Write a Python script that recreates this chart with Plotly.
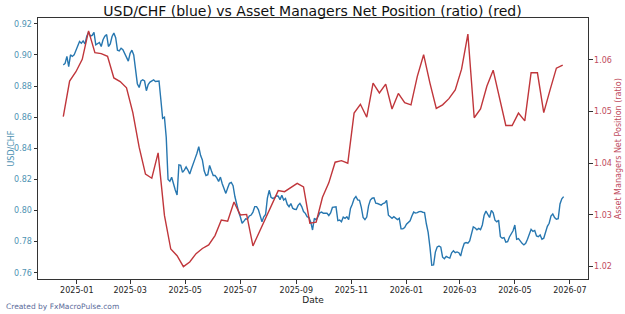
import pandas as pd
import plotly.graph_objects as go

# ---- data ----
usdchf_start = "2024-12-17"
usdchf_values = [
    0.8936, 0.8945, 0.8990, 0.8925, 0.9000, 0.8990, 0.9000, 0.9025, 0.9054, 0.9086,
    0.9075, 0.9090, 0.9070, 0.9120, 0.9145, 0.9120, 0.9125, 0.9145, 0.9065, 0.9075,
    0.9080, 0.9054, 0.9097, 0.9120, 0.9130, 0.9054, 0.9070, 0.9118, 0.9140, 0.9110,
    0.9030, 0.9025, 0.9043, 0.9033, 0.9007, 0.8990, 0.8960, 0.9010, 0.9030, 0.9000,
    0.8900, 0.8815, 0.8790, 0.8832, 0.8840, 0.8832, 0.8770, 0.8810, 0.8825, 0.8830,
    0.8840, 0.8829, 0.8830, 0.8832, 0.8715, 0.8593, 0.8600, 0.8470, 0.8200, 0.8188,
    0.8214, 0.8165, 0.8132, 0.8100, 0.8293, 0.8290, 0.8245, 0.8260, 0.8280, 0.8260,
    0.8235, 0.8270, 0.8310, 0.8335, 0.8368, 0.8410, 0.8355, 0.8325, 0.8255, 0.8225,
    0.8230, 0.8290, 0.8255, 0.8225, 0.8225, 0.8210, 0.8186, 0.8215, 0.8172, 0.8140,
    0.8110, 0.8145, 0.8175, 0.8180, 0.8160, 0.8090, 0.8030, 0.7994, 0.7960, 0.7918,
    0.7932, 0.7947, 0.7945, 0.7965, 0.7971, 0.7990, 0.8025, 0.8025, 0.8006, 0.7962,
    0.7928, 0.7960, 0.7975, 0.8080, 0.8130, 0.8085, 0.8078, 0.8082, 0.8095, 0.8092,
    0.8070, 0.8098, 0.8067, 0.8077, 0.8040, 0.8025, 0.8045, 0.8015, 0.8008, 0.8007,
    0.8033, 0.8046, 0.8025, 0.7993, 0.7982, 0.7960, 0.7955, 0.7925, 0.7875, 0.7950,
    0.7940, 0.7960, 0.7985, 0.7990, 0.7982, 0.7982, 0.7982, 0.7968, 0.7985, 0.8020,
    0.8024, 0.8024, 0.7935, 0.7939, 0.7928, 0.7958, 0.7950, 0.7960, 0.7942, 0.8014,
    0.8040, 0.8075, 0.8090, 0.8068, 0.8065, 0.8020, 0.7955, 0.7942, 0.7958, 0.8030,
    0.8067, 0.8079, 0.8082, 0.8047, 0.8045, 0.8040, 0.8035, 0.8045, 0.8049, 0.8065,
    0.7970, 0.7960, 0.7950, 0.7960, 0.7950, 0.7942, 0.7950, 0.7882, 0.7882, 0.7890,
    0.7912, 0.7926, 0.7934, 0.7965, 0.7990, 0.7984, 0.7986, 0.7993, 0.7994, 0.7989,
    0.7987, 0.7915, 0.7860, 0.7765, 0.7648, 0.7650, 0.7733, 0.7766, 0.7772, 0.7765,
    0.7700, 0.7690, 0.7705, 0.7699, 0.7694, 0.7728, 0.7741, 0.7729, 0.7734, 0.7729,
    0.7708, 0.7755, 0.7789, 0.7794, 0.7790, 0.7805, 0.7843, 0.7895, 0.7888, 0.7876,
    0.7885, 0.7877, 0.7907, 0.7970, 0.7996, 0.7975, 0.7955, 0.8001, 0.7985, 0.7938,
    0.7928, 0.7938, 0.7832, 0.7822, 0.7826, 0.7797, 0.7800, 0.7830, 0.7853, 0.7870,
    0.7907, 0.7815, 0.7820, 0.7801, 0.7789, 0.7779, 0.7789, 0.7816, 0.7847, 0.7879,
    0.7866, 0.7872, 0.7837, 0.7832, 0.7843, 0.7815, 0.7822, 0.7867, 0.7898, 0.7918,
    0.7965, 0.7978, 0.7955, 0.7944, 0.7947, 0.8042, 0.8075, 0.8089,
]

am_start = "2024-12-17"
am_values = [
    1.0490, 1.0559, 1.0577, 1.0601, 1.0656, 1.0614, 1.0612, 1.0607, 1.0565, 1.0558,
    1.0546, 1.0498, 1.0431, 1.0379, 1.0371, 1.0420, 1.0299, 1.0234, 1.0221, 1.0200,
    1.0209, 1.0225, 1.0235, 1.0242, 1.0260, 1.0290, 1.0288, 1.0325, 1.0300, 1.0301,
    1.0240, 1.0267, 1.0296, 1.0321, 1.0347, 1.0345, 1.0353, 1.0361, 1.0354, 1.0284,
    1.0286, 1.0334, 1.0362, 1.0402, 1.0405, 1.0400, 1.0497, 1.0514, 1.0489, 1.0555,
    1.0536, 1.0553, 1.0505, 1.0535, 1.0517, 1.0513, 1.0568, 1.0610, 1.0555, 1.0506,
    1.0513, 1.0525, 1.0542, 1.0582, 1.0650, 1.0488, 1.0505, 1.0549, 1.0580, 1.0527,
    1.0473, 1.0473, 1.0497, 1.0482, 1.0575, 1.0575, 1.0498, 1.0542, 1.0584, 1.0590,
]

usdchf_dates = pd.date_range(usdchf_start, periods=len(usdchf_values), freq="2D")
am_dates = pd.date_range(am_start, periods=len(am_values), freq="7D")

title_text = "USD/CHF (blue) vs Asset Managers Net Position (ratio) (red)"
left_title = "USD/CHF"
right_title = "Asset Managers Net Position (ratio)"
x_title = "Date"
footer = "Created by FxMacroPulse.com"

BLUE = "#2777b0"
RED = "#c0363b"
LEFT_TXT = "#4f93b3"
RIGHT_TXT = "#c04b5e"
AX = "#333333"
FONT = "DejaVu Sans"

fig = go.Figure()
fig.add_trace(go.Scatter(x=usdchf_dates, y=usdchf_values, mode="lines",
                         line=dict(color=BLUE, width=1.4), yaxis="y", showlegend=False))
fig.add_trace(go.Scatter(x=am_dates, y=am_values, mode="lines",
                         line=dict(color=RED, width=1.4), yaxis="y2", showlegend=False))

fig.update_layout(
    width=625, height=314,
    margin=dict(l=38, r=37, t=18, b=35, autoexpand=False),
    paper_bgcolor="white", plot_bgcolor="white",
    font=dict(family=FONT, size=8, color=AX),
    title=dict(text=title_text, x=0.5, xanchor="center", y=0.966, yanchor="middle",
               font=dict(family=FONT, size=14, color="#111111")),
    xaxis=dict(
        type="date", range=["2024-11-19", "2026-07-21"], automargin=False,
        tick0="2025-01-01", dtick="M2", tickformat="%Y-%m",
        showgrid=False, zeroline=False,
        showline=True, linecolor=AX, linewidth=1, mirror=True,
        ticks="outside", ticklen=3.5, tickcolor=AX, tickwidth=0.8,
        tickfont=dict(family=FONT, size=8, color="#222222"),
        title=dict(text=x_title, font=dict(family=FONT, size=9, color="#222222"), standoff=1),
    ),
    yaxis=dict(
        range=[0.756, 0.9237], dtick=0.02, tick0=0.76, tickformat=".2f", automargin=False,
        showgrid=False, zeroline=False,
        showline=True, linecolor=AX, linewidth=1, mirror=False,
        ticks="outside", ticklen=3.5, tickcolor=AX, tickwidth=0.8,
        tickfont=dict(family=FONT, size=8, color=LEFT_TXT),
    ),
    yaxis2=dict(
        range=[1.0176, 1.0681], dtick=0.01, tick0=1.02, tickformat=".2f", automargin=False,
        overlaying="y", side="right",
        showgrid=False, zeroline=False,
        showline=True, linecolor=AX, linewidth=1,
        ticks="outside", ticklen=3.5, tickcolor=AX, tickwidth=0.8,
        tickfont=dict(family=FONT, size=8, color=RIGHT_TXT),
    ),
    annotations=[
        dict(text=footer, xref="paper", yref="paper", x=-0.062, y=-0.08,
             xanchor="left", yanchor="top", showarrow=False,
             font=dict(family=FONT, size=7.5, color="#5b6b9a")),
        dict(text=left_title, xref="paper", yref="paper", x=-0.049, y=0.5,
             xanchor="center", yanchor="middle", textangle=-90, showarrow=False,
             font=dict(family=FONT, size=8, color=LEFT_TXT)),
        dict(text=right_title, xref="paper", yref="paper", x=1.056, y=0.5,
             xanchor="center", yanchor="middle", textangle=-90, showarrow=False,
             font=dict(family=FONT, size=8, color=RIGHT_TXT)),
    ],
)

fig.write_html("out.html")
